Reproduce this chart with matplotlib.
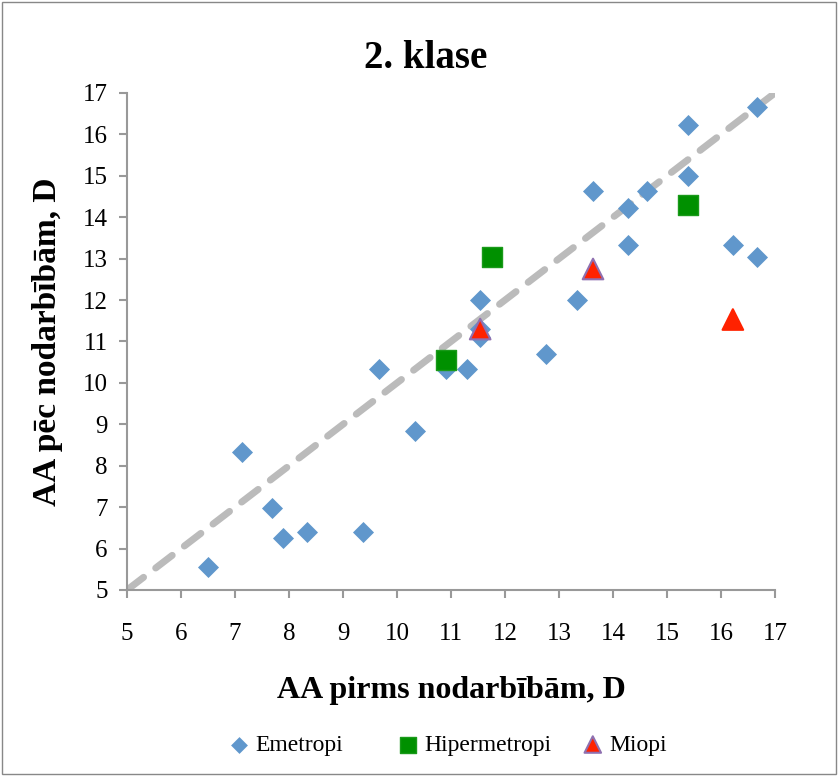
import matplotlib
matplotlib.use("Agg")
import matplotlib.pyplot as plt
from matplotlib.patches import Rectangle

# Emetropi
em_x = [6.5, 7.13, 7.69, 7.89, 8.33, 9.37, 9.67, 10.33, 10.9, 11.3, 11.54, 11.54,
        11.54, 12.76, 13.33, 13.63, 14.28, 14.28, 14.63, 15.39, 15.39, 16.22, 16.67, 16.67]
em_y = [5.56, 8.33, 6.97, 6.25, 6.39, 6.39, 10.33, 8.83, 10.33, 10.33, 11.1, 12.0,
        11.3, 10.7, 12.0, 14.64, 14.22, 13.33, 14.64, 16.22, 15.0, 13.33, 13.04, 16.67]
# Hipermetropi
hi_x = [10.9, 11.76, 15.39]
hi_y = [10.55, 13.04, 14.3]
# Miopi
mi_x = [11.54, 13.63, 16.22]
mi_y = [11.3, 12.75, 11.53]

ticks = list(range(5, 18))

plt.rcParams['font.family'] = ['Liberation Serif', 'DejaVu Serif']

fig = plt.figure(figsize=(8.38, 7.76), dpi=100)
fig.patches.append(Rectangle((0.002, 0.002), 0.996, 0.996, transform=fig.transFigure,
                             fill=False, edgecolor="#888888", linewidth=1))
ax = fig.add_axes([0.1516, 0.2397, 0.7732, 0.6405])

# ligne y = x
ax.plot([5, 17], [5, 17], color="#BBBBBB", linewidth=5, linestyle=(0, (3, 2.2)),
        solid_capstyle="round", dash_capstyle="round", zorder=1)

h_em = ax.scatter(em_x, em_y, marker="D", s=115, color="#6097CC", linewidths=0,
                  label="Emetropi", zorder=3)
h_hi = ax.scatter(hi_x, hi_y, marker="s", s=200, color="#009000", edgecolors="#1A9A1A",
                  linewidths=1, label="Hipermetropi", zorder=4)
h_mi = ax.scatter(mi_x, mi_y, marker="^", s=220, color="#FF2200",
                  edgecolors=["#8F70B0", "#8F70B0", "#FF2200"], linewidths=1.5,
                  label="Miopi", zorder=5)

ax.set_xlim(5, 17)
ax.set_ylim(5, 17)
ax.set_xticks(ticks)
ax.set_yticks(ticks)
ax.tick_params(axis="both", direction="out", length=6, width=1.5, color="#999999",
               labelsize=18)
ax.tick_params(axis="x", pad=18)
ax.tick_params(axis="y", pad=8)
for s in ["top", "right"]:
    ax.spines[s].set_visible(False)
for s in ["left", "bottom"]:
    ax.spines[s].set_color("#999999")
    ax.spines[s].set_linewidth(1.5)

fig.text(0.508, 0.925, "2. klase", fontsize=28, fontweight="bold", ha="center", va="center")
ax.set_xlabel("AA pirms nodarbībām, D", fontsize=23, fontweight="bold", labelpad=22)
ax.set_ylabel("AA pēc nodarbībām, D", fontsize=24, fontweight="bold", labelpad=14)

# une légende par série, comme dans Excel
for h, x0 in [(h_em, 0.2709), (h_hi, 0.4726), (h_mi, 0.6933)]:
    leg = fig.legend(handles=[h], loc="center left", bbox_to_anchor=(x0, 0.04),
                     frameon=False, fontsize=17, handletextpad=0.2, handlelength=1.0,
                     borderpad=0, borderaxespad=0, markerscale=0.8)

fig.savefig("out.png", dpi=100)
